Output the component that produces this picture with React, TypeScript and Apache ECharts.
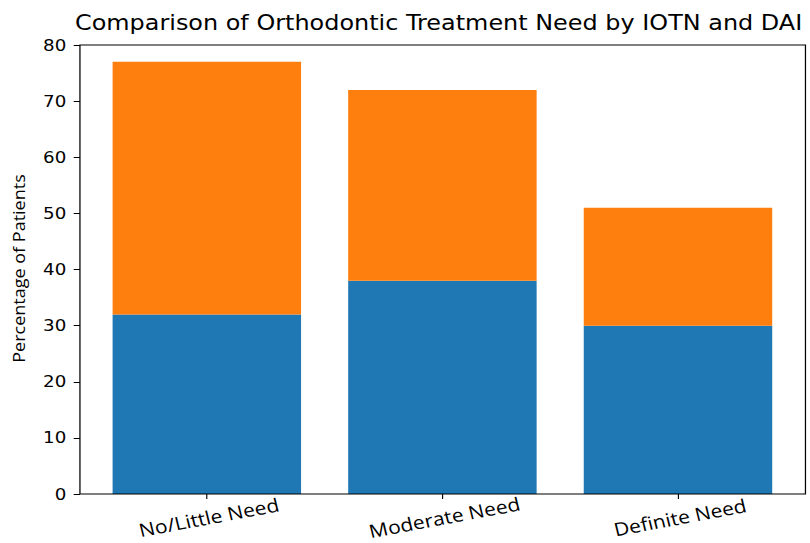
import React, { useEffect, useRef } from "react";
import * as echarts from "echarts";

const categories = ["No/Little Need", "Moderate Need", "Definite Need"];
const iotnValues = [32, 38, 30];
const daiValues = [45, 34, 21];
const yTicks = { min: 0, max: 80, interval: 10 };

const FONT = "DejaVu Sans";
const LABEL_FONT = "Open Sans";
const S = 1.14; // horizontal stretch of the reference picture
const W = Math.round(810 / S);
const H = 543;

export default function App() {
  const ref = useRef<HTMLDivElement>(null);
  useEffect(() => {
    if (!ref.current) return;
    const chart = echarts.init(ref.current, null, { renderer: "svg" });
    const plotL = 80 / S, plotR = 806 / S, plotT = 45, plotB = 494;
    const bandL = 89.1 / S, bandR = 796.3 / S;
    chart.setOption({
      animation: false,
      title: {
        text: "Comparison of Orthodontic Treatment Need by IOTN and DAI",
        left: 75 / S,
        textAlign: "left",
        top: 12,
        padding: 0,
        textStyle: { fontFamily: FONT, fontSize: 21, fontWeight: "normal", color: "#000" },
      },
      grid: {
        left: bandL,
        right: W - bandR,
        top: plotT,
        bottom: H - plotB,
        outerBoundsMode: "none",
        containLabel: false,
      },
      graphic: [
        {
          type: "rect",
          shape: { x: plotL, y: plotT, width: plotR - plotL, height: plotB - plotT },
          style: { fill: "none", stroke: "#000", lineWidth: 1.1 },
          z: 100,
        },
        {
          type: "text",
          x: 18.5 / S,
          y: (plotT + plotB) / 2 - 1,
          rotation: Math.PI / 2,
          scaleY: 0.8,
          style: {
            text: "Percentage of Patients",
            fontFamily: LABEL_FONT,
            fontSize: 18,
            fill: "#000",
            align: "center",
            verticalAlign: "middle",
            textAlign: "center",
            textVerticalAlign: "middle",
          },
        },
      ],
      xAxis: {
        type: "category",
        data: categories,
        axisLine: { show: false },
        axisTick: { show: true, alignWithLabel: true, length: 5, lineStyle: { color: "#000" } },
        axisLabel: {
          rotate: 12,
          align: "center",
          verticalAlign: "top",
          margin: 15,
          fontFamily: LABEL_FONT,
          fontSize: 18.5,
          lineHeight: 17,
          color: "#000",
        },
      },
      yAxis: {
        type: "value",
        min: yTicks.min,
        max: yTicks.max,
        interval: yTicks.interval,
        offset: bandL - plotL,
        splitLine: { show: false },
        axisLine: { show: false },
        axisTick: { show: true, length: 5.5, lineStyle: { color: "#000" } },
        axisLabel: { fontFamily: FONT, fontSize: 16, color: "#000", margin: 12 },
      },
      series: [
        {
          name: "IOTN",
          type: "bar",
          stack: "total",
          data: iotnValues,
          barWidth: "80%",
          itemStyle: { color: "#1f77b4" },
        },
        {
          name: "DAI",
          type: "bar",
          stack: "total",
          data: daiValues,
          barWidth: "80%",
          itemStyle: { color: "#ff7f0e" },
        },
      ],
    });
    return () => chart.dispose();
  }, []);
  return (
    <div style={{ position: "fixed", left: 0, top: 0, width: 810, height: H, overflow: "hidden", background: "#fff" }}>
      <div
        ref={ref}
        style={{
          width: W,
          height: H,
          transform: `scaleX(${810 / W})`,
          transformOrigin: "0 0",
        }}
      />
    </div>
  );
}
